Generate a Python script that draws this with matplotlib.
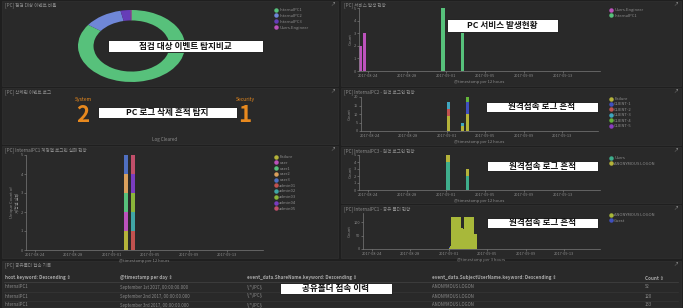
import numpy as np
import pandas as pd
import matplotlib
matplotlib.use("Agg")
import matplotlib.pyplot as plt
import matplotlib.dates as mdates
from matplotlib.lines import Line2D
from matplotlib.patches import Rectangle

plt.rcParams['font.family'] = ['Noto Sans CJK KR', 'DejaVu Sans']

W, H = 683, 308
BG = '#1f1f1f'
PANEL = '#292929'
TXT = '#8c8c8c'
AX = '#7a7a7a'

# ---- data ----
pie_labels = ['InternalPC1', 'InternalPC2', 'InternalPC3', 'Users.Engineer']
pie_values = [850, 117, 30, 3]
pie_colors = ['#57c17b', '#6f87d8', '#663db8', '#bc52bc']

svc_series = ['Users.Engineer', 'InternalPC1']
svc_colors = ['#bc52bc', '#57c17b']
svc_dates = [['2017-08-23 00:00', '2017-08-23 12:00'], ['2017-08-31 12:00', '2017-09-02 12:00']]
svc_counts = [[2, 3], [5, 3]]

cleared_names = ['System', 'Security']
cleared_counts = [2, 1]

pc2_series = ['Failure', 'CLIENT-1', 'CLIENT-2', 'CLIENT-3', 'CLIENT-4', 'CLIENT-5']
pc2_colors = ['#b5b33a', '#4050bf', '#c1524f', '#40a6bf', '#64b53a', '#8a3dc1']
pc2_dates = ['2017-09-01 00:00', '2017-09-02 12:00', '2017-09-03 00:00']
pc2_counts = {
    'Failure':  [9, 3, 10],
    'CLIENT-1': [0, 0, 7],
    'CLIENT-2': [4, 0, 0],
    'CLIENT-3': [4, 2, 0],
    'CLIENT-4': [0, 0, 3],
    'CLIENT-5': [0, 0, 0],
}

pc1_series = ['Failure', 'user', 'user1', 'user2', 'user3',
              'admin01', 'admin02', 'admin03', 'admin04', 'admin05']
pc1_colors = ['#b5b33a', '#bc52bc', '#57c17b', '#daa05d', '#4f6fc1',
              '#c1524f', '#40a6a6', '#8ab53a', '#7a3dc1', '#c14f6a']
pc1_dates = ['2017-09-02 08:00', '2017-09-03 00:00']
pc1_counts = {
    'Failure': [1, 0], 'user': [1, 0], 'user1': [1, 0], 'user2': [1, 0], 'user3': [1, 0],
    'admin01': [0, 1], 'admin02': [0, 1], 'admin03': [0, 1], 'admin04': [0, 1], 'admin05': [0, 1],
}

pc3_series = ['Users', 'ANONYMOUS LOGON']
pc3_colors = ['#3fae8c', '#b5b33a']
pc3_dates = ['2017-09-01 00:00', '2017-09-03 00:00']
pc3_counts = {'Users': [4, 2], 'ANONYMOUS LOGON': [1, 1]}

share_series = ['ANONYMOUS LOGON', 'Guest']
share_colors = ['#a8b83a', '#4050bf']
share_start = '2017-09-01 00:00'
share_counts = [5, 12, 118, 118, 118, 120, 118, 118, 118, 119, 80, 78,
                76, 118, 118, 118, 119, 118, 118, 118, 118, 55, 55, 55]
share_guest = [3, 0, 0, 0, 0, 0, 0, 0, 0, 0, 0, 0,
               0, 0, 0, 0, 0, 0, 0, 0, 0, 0, 0, 0]

table_cols = ['host.keyword: Descending', '@timestamp per day',
              'event_data.ShareName.keyword: Descending',
              'event_data.SubjectUserName.keyword: Descending', 'Count']
table_rows = [
    ['InternalPC1', 'September 1st 2017, 00:00:00.000', '\\\\*\\IPC$', 'ANONYMOUS LOGON', '52'],
    ['InternalPC1', 'September 2nd 2017, 00:00:00.000', '\\\\*\\IPC$', 'ANONYMOUS LOGON', '120'],
    ['InternalPC1', 'September 3rd 2017, 00:00:00.000', '\\\\*\\IPC$', 'ANONYMOUS LOGON', '133'],
]

x_start = pd.Timestamp('2017-08-23 02:00')
x_end = pd.Timestamp('2017-09-16 18:00')
tick_dates = pd.date_range('2017-08-24', periods=6, freq='4D')

# ---- figure ----
fig = plt.figure(figsize=(W / 100, H / 100), dpi=100, facecolor=BG)


def fx(x):
    return x / W


def fy(y):
    return 1 - y / H


def px_axes(x0, y0, x1, y1):
    return fig.add_axes([x0 / W, 1 - y1 / H, (x1 - x0) / W, (y1 - y0) / H])


def panel(x0, y0, x1, y1, title):
    fig.patches.append(Rectangle((fx(x0), fy(y1)), (x1 - x0) / W, (y1 - y0) / H,
                                 transform=fig.transFigure, facecolor=PANEL,
                                 edgecolor='#333333', lw=0.4, zorder=-5))
    fig.text(fx(x0 + 3), fy(y0 + 4), title, fontsize=3.3, color=TXT, va='center')
    fig.text(fx(x1 - 5), fy(y0 + 4), '↗', fontsize=3.5, color=TXT, va='center', ha='center')


def label_box(x0, y0, x1, y1, text):
    fig.patches.append(Rectangle((fx(x0), fy(y1)), (x1 - x0) / W, (y1 - y0) / H,
                                 transform=fig.transFigure, facecolor='white',
                                 edgecolor='#111111', lw=0.6, zorder=5))
    t = fig.text(fx((x0 + x1) / 2), fy((y0 + y1) / 2), text, fontsize=6.2,
                 color='#111111', fontweight='bold', ha='center', va='center')
    t.set_zorder(6)


def legend_at(ax, labels, colors, x, y, spacing=0.45):
    handles = [Line2D([], [], marker='o', ls='', ms=2.2, color=c) for c in colors]
    ax.legend(handles, labels, loc='upper left', bbox_to_anchor=(fx(x), fy(y)),
              bbox_transform=fig.transFigure, frameon=False, fontsize=3,
              labelcolor=TXT, handlelength=0.6, handletextpad=0.4,
              labelspacing=spacing, borderpad=0, borderaxespad=0)


def style_time_axes(ax, ymax, yticks, ylabel='Count', xlabel=True):
    ax.set_facecolor(PANEL)
    ax.set_xlim(mdates.date2num(x_start), mdates.date2num(x_end))
    ax.set_ylim(0, ymax)
    ax.set_xticks(mdates.date2num(tick_dates))
    ax.set_xticklabels([d.strftime('%Y-%m-%d') for d in tick_dates])
    ax.set_yticks(yticks)
    for s in ['top', 'right']:
        ax.spines[s].set_visible(False)
    for s in ['left', 'bottom']:
        ax.spines[s].set_color(AX)
        ax.spines[s].set_linewidth(0.5)
    ax.tick_params(colors=TXT, labelsize=2.8, length=1.2, width=0.4, pad=1)
    ax.set_ylabel(ylabel, fontsize=3, color=TXT, labelpad=1)
    if xlabel:
        ax.set_xlabel('@timestamp per 12 hours', fontsize=3, color=TXT, labelpad=1.5)


def stacked(ax, dates, series, counts, colors, width):
    xs = mdates.date2num(pd.to_datetime(dates))
    bottom = np.zeros(len(xs))
    for name, c in zip(series, colors):
        vals = np.array(counts[name], dtype=float)
        ax.bar(xs, vals, width=width, bottom=bottom, color=c, align='edge', lw=0)
        bottom += vals


# panels
panel(2, 1, 338, 86, '[PC] 점검 대상 이벤트 비율')
panel(341, 1, 681, 86, '[PC] 서비스 발생 현황')
panel(2, 88, 338, 144, '[PC] 삭제된 이벤트 로그')
panel(341, 88, 681, 145, '[PC] InternalPC2 - 원격 로그인 현황')
panel(2, 146, 338, 258, '[PC] InternalPC1 계정별 로그인 실패 현황')
panel(341, 147, 681, 203, '[PC] InternalPC3 - 원격 로그인 현황')
panel(341, 205, 681, 258, '[PC] InternalPC1 - 공유 폴더 현황')
panel(2, 261, 681, 307, '[PC] 공유폴더 접속 기록')

# donut
ax = px_axes(78, 10, 185, 82)
ax.pie(pie_values, colors=pie_colors, startangle=90, counterclock=False,
       wedgeprops=dict(width=0.29, linewidth=0))
ax.set_aspect('auto')
ax.set_xlim(-1, 1)
ax.set_ylim(-1, 1)
legend_at(ax, pie_labels, pie_colors, 275, 8)

# services
ax = px_axes(359, 8, 600, 71)
for d, v, c in zip(svc_dates, svc_counts, svc_colors):
    ax.bar(mdates.date2num(pd.to_datetime(d)), v, width=0.35, color=c, align='edge', lw=0)
style_time_axes(ax, 5, range(0, 6))
legend_at(ax, svc_series, svc_colors, 610, 8)

# log cleared metric
for name, n, x in zip(cleared_names, cleared_counts, [83, 245]):
    fig.text(fx(x), fy(99), name, fontsize=3.6, color='#e8891e', ha='center', va='center')
    fig.text(fx(x), fy(116), str(n), fontsize=16, color='#e8891e', ha='center',
             va='center', fontweight='bold')
fig.text(fx(165), fy(139), 'Log Cleared', fontsize=3.3, color=TXT, ha='center', va='center')

# InternalPC2 remote
ax = px_axes(361, 97, 598, 131)
stacked(ax, pc2_dates, pc2_series, pc2_counts, pc2_colors, 0.35)
style_time_axes(ax, 20, [0, 5, 10, 15, 20])
legend_at(ax, pc2_series, pc2_colors, 610, 97, spacing=0.35)

# InternalPC1 logon failure
ax = px_axes(26, 155, 263, 250)
stacked(ax, pc1_dates, pc1_series, pc1_counts, pc1_colors, 0.4)
style_time_axes(ax, 5, range(0, 6), ylabel='Unique Count of\n계정별 실패', xlabel=True)
legend_at(ax, pc1_series, pc1_colors, 275, 155, spacing=0.42)

# InternalPC3 remote
ax = px_axes(359, 155, 600, 190)
stacked(ax, pc3_dates, pc3_series, pc3_counts, pc3_colors, 0.35)
style_time_axes(ax, 5, range(0, 6))
legend_at(ax, pc3_series, pc3_colors, 610, 156)

# share folder
ax = px_axes(363, 213, 600, 249)
share_x = mdates.date2num(pd.date_range(share_start, periods=len(share_counts), freq='3h'))
ax.bar(share_x, share_counts, width=0.11, color=share_colors[0], align='edge', lw=0)
ax.bar(share_x, share_guest, width=0.11, bottom=share_counts, color=share_colors[1],
       align='edge', lw=0)
style_time_axes(ax, 134, [0, 50, 100])
ax.set_xlabel('@timestamp per 3 hours', fontsize=3, color=TXT, labelpad=1.5)
legend_at(ax, share_series, share_colors, 610, 213)

# table
col_x = [5, 120, 247, 432, 645]
for x, c in zip(col_x, table_cols):
    fig.text(fx(x), fy(278), c + ' ⇕', fontsize=3.3, color='#a8a8a8',
             fontweight='bold', va='center')
fig.lines.append(Line2D([fx(4), fx(678)], [fy(282), fy(282)], transform=fig.transFigure,
                        color='#444444', lw=0.5))
for i, row in enumerate(table_rows):
    y = 287 + i * 9
    for x, v in zip(col_x, row):
        fig.text(fx(x), fy(y), v, fontsize=3.1, color=TXT, va='center')
    fig.lines.append(Line2D([fx(4), fx(678)], [fy(y + 4.5), fy(y + 4.5)],
                            transform=fig.transFigure, color='#3a3a3a', lw=0.4))

# overlay labels
label_box(108, 40, 263, 52, '점검 대상 이벤트 탐지비교')
label_box(447, 19, 558, 32, 'PC 서비스 발생현황')
label_box(98, 107, 237, 118, 'PC 로그 삭제 흔적 탐지')
label_box(486, 102, 598, 112, '원격접속 로그 흔적')
label_box(487, 161, 598, 171, '원격접속 로그 흔적')
label_box(487, 218, 598, 228, '원격접속 로그 흔적')
label_box(280, 283, 392, 294, '공유폴더 접속 이력')

fig.savefig('out.png', dpi=100, facecolor=BG)
